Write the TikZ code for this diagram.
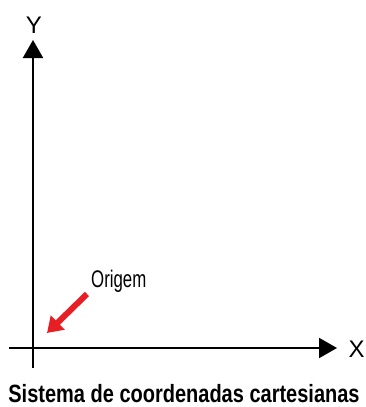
\documentclass[tikz,border=0pt]{standalone}
\usepackage{fontspec}
\setmainfont{Liberation Sans}
\newfontfamily\condfont[FakeStretch=0.70]{Liberation Sans}
\newfontfamily\titlefont[FakeStretch=0.80]{Liberation Sans}
\usetikzlibrary{arrows.meta}
\definecolor{arrowred}{RGB}{232,30,37}
\tikzset{
  axis/.style={line width=2pt,-{Triangle[width=20pt,length=18pt]}},
  lbl/.style={inner sep=0pt,anchor=base,font=\fontsize{24}{24}\selectfont},
}
\begin{document}
\begin{tikzpicture}[x=1pt,y=-1pt]
\useasboundingbox (0,0) rectangle (366,407);
\coordinate (ybot) at (33,368);
\coordinate (ytop) at (33,40);
\coordinate (xleft) at (9,348);
\coordinate (xright) at (337,348);
\draw[axis] (ybot) -- (ytop);
\draw[axis] (xleft) -- (xright);
\node[lbl] (Y) at (34,33) {Y};
\node[lbl] (X) at (356.5,357) {X};
\node[inner sep=0pt,anchor=base west,font=\condfont\fontsize{24}{24}\selectfont] (orig) at (91,287) {Origem};
\coordinate (rs) at (87,294);
\coordinate (re) at (47,333);
\draw[arrowred,line width=6pt,-{Triangle[width=19pt,length=15pt]}] (rs) -- (re);
\node[inner sep=0pt,anchor=base,font=\titlefont\bfseries\fontsize{25}{25}\selectfont] (title) at (184,402) {Sistema de coordenadas cartesianas};
\end{tikzpicture}
\end{document}
